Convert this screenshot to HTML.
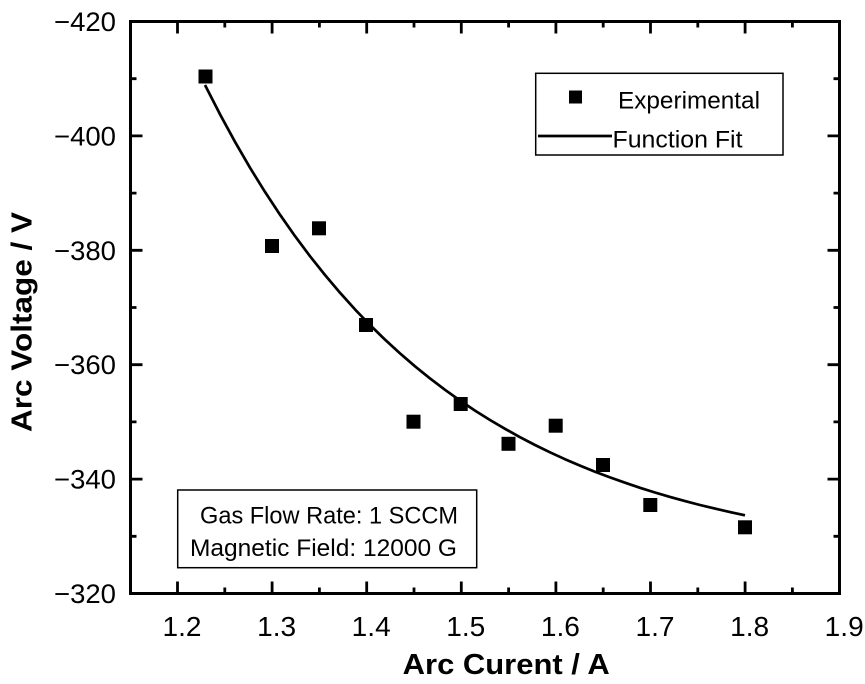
<!DOCTYPE html>
<html><head><meta charset="utf-8"><style>
html,body{margin:0;padding:0;background:#fff;}
svg{display:block;}
text{font-family:"Liberation Sans",Arial,sans-serif;fill:#000;}
</style></head><body>
<svg width="865" height="684" viewBox="0 0 865 684" xmlns="http://www.w3.org/2000/svg">
<rect x="0" y="0" width="865" height="684" fill="#fff"/>
<!-- ticks -->
<g stroke="#000" stroke-width="2.8" fill="none">
<path d="M177.5 593.5v-12M272.1 593.5v-12M366.7 593.5v-12M461.3 593.5v-12M555.9 593.5v-12M650.5 593.5v-12M745.1 593.5v-12"/>
<path d="M224.8 593.5v-6M319.4 593.5v-6M414 593.5v-6M508.6 593.5v-6M603.2 593.5v-6M697.8 593.5v-6M792.4 593.5v-6"/>
<path d="M177.5 21.5v12M272.1 21.5v12M366.7 21.5v12M461.3 21.5v12M555.9 21.5v12M650.5 21.5v12M745.1 21.5v12"/>
<path d="M224.8 21.5v6M319.4 21.5v6M414 21.5v6M508.6 21.5v6M603.2 21.5v6M697.8 21.5v6M792.4 21.5v6"/>
<path d="M130.5 135.9h12M130.5 250.3h12M130.5 364.7h12M130.5 479.1h12"/>
<path d="M130.5 78.7h6M130.5 193.1h6M130.5 307.5h6M130.5 421.9h6M130.5 536.3h6"/>
<path d="M839.5 135.9h-12M839.5 250.3h-12M839.5 364.7h-12M839.5 479.1h-12"/>
<path d="M839.5 78.7h-6M839.5 193.1h-6M839.5 307.5h-6M839.5 421.9h-6M839.5 536.3h-6"/>
</g>
<rect x="130.5" y="21.5" width="709" height="572" fill="none" stroke="#000" stroke-width="3"/>

<!-- y tick labels -->
<g font-size="27" text-anchor="end">
<text x="116" y="31" textLength="62" lengthAdjust="spacingAndGlyphs">−420</text>
<text x="116" y="145.4" textLength="62" lengthAdjust="spacingAndGlyphs">−400</text>
<text x="116" y="259.8" textLength="62" lengthAdjust="spacingAndGlyphs">−380</text>
<text x="116" y="374.2" textLength="62" lengthAdjust="spacingAndGlyphs">−360</text>
<text x="116" y="488.6" textLength="62" lengthAdjust="spacingAndGlyphs">−340</text>
<text x="116" y="603" textLength="62" lengthAdjust="spacingAndGlyphs">−320</text>
</g>
<!-- x tick labels -->
<g font-size="28">
<text x="162.5" y="636" textLength="39" lengthAdjust="spacingAndGlyphs">1.2</text>
<text x="257.1" y="636" textLength="39" lengthAdjust="spacingAndGlyphs">1.3</text>
<text x="351.7" y="636" textLength="39" lengthAdjust="spacingAndGlyphs">1.4</text>
<text x="446.3" y="636" textLength="39" lengthAdjust="spacingAndGlyphs">1.5</text>
<text x="540.9" y="636" textLength="39" lengthAdjust="spacingAndGlyphs">1.6</text>
<text x="635.5" y="636" textLength="39" lengthAdjust="spacingAndGlyphs">1.7</text>
<text x="730.1" y="636" textLength="39" lengthAdjust="spacingAndGlyphs">1.8</text>
<text x="824.7" y="636" textLength="39" lengthAdjust="spacingAndGlyphs">1.9</text>
</g>

<!-- axis titles -->
<text x="402.7" y="674" font-size="29" font-weight="bold" textLength="207" lengthAdjust="spacingAndGlyphs">Arc Curent / A</text>
<text transform="translate(31.5,322) rotate(-90)" x="0" y="0" text-anchor="middle" font-size="29" font-weight="bold" textLength="220" lengthAdjust="spacingAndGlyphs">Arc Voltage / V</text>

<!-- fit curve -->
<polyline fill="none" stroke="#000" stroke-width="2.7" stroke-linejoin="round" stroke-linecap="butt"
points="205,85 220,114.3 235,141.8 250,167.7 265,191.9 280,214.7 295,236.1 310,256.2 325,275 340,292.7 355,309.4 370,325 385,339.6 400,353.4 415,366.3 430,378.4 445,389.8 460,400.5 475,410.6 490,420 505,428.8 520,437.2 535,445 550,452.3 565,459.2 580,465.6 595,471.7 610,477.4 625,482.7 640,487.8 655,492.5 670,496.9 685,501.1 700,505 715,508.6 730,512.1 745,515.3"/>

<!-- data markers -->
<g fill="#000">
<rect x="198.5" y="69.5" width="14" height="14"/>
<rect x="265" y="239" width="14" height="14"/>
<rect x="312" y="221.3" width="14" height="14"/>
<rect x="359" y="318" width="14" height="14"/>
<rect x="406.5" y="414.7" width="14" height="14"/>
<rect x="453.7" y="397" width="14" height="14"/>
<rect x="501.5" y="436.8" width="14" height="14"/>
<rect x="548.7" y="418.7" width="14" height="14"/>
<rect x="596" y="458" width="14" height="14"/>
<rect x="643.3" y="498" width="14" height="14"/>
<rect x="738" y="520.3" width="14" height="14"/>
</g>

<!-- legend -->
<rect x="535.7" y="73.3" width="247.3" height="81.7" fill="#fff" stroke="#000" stroke-width="1.5"/>
<rect x="569" y="90.5" width="13" height="13" fill="#000"/>
<text x="618" y="108.3" font-size="24" textLength="142" lengthAdjust="spacingAndGlyphs">Experimental</text>
<line x1="538" y1="136" x2="612" y2="136" stroke="#000" stroke-width="2.7"/>
<text x="612.5" y="147.7" font-size="24" textLength="130" lengthAdjust="spacingAndGlyphs">Function Fit</text>

<!-- annotation -->
<rect x="177.7" y="490" width="299" height="77.7" fill="#fff" stroke="#000" stroke-width="1.5"/>
<text x="200" y="523.3" font-size="24" textLength="258" lengthAdjust="spacingAndGlyphs">Gas Flow Rate: 1 SCCM</text>
<text x="190" y="556" font-size="24" textLength="267" lengthAdjust="spacingAndGlyphs">Magnetic Field: 12000 G</text>
</svg>
</body></html>
